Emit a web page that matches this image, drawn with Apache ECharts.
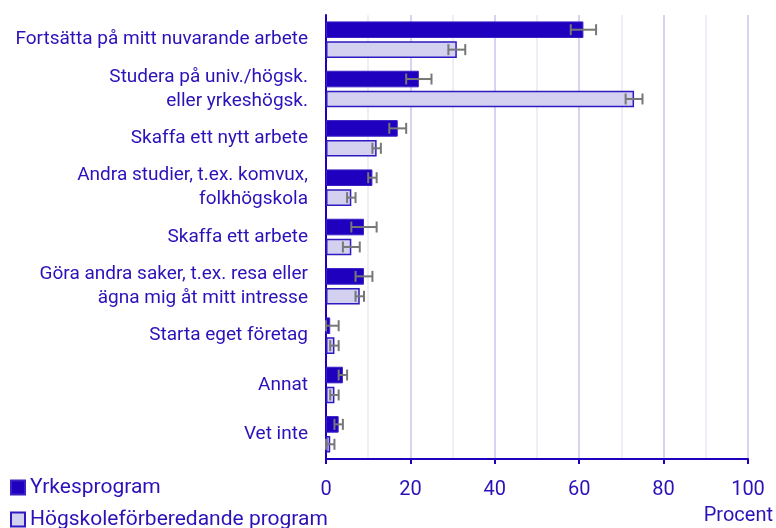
<!DOCTYPE html>
<html>
<head>
<meta charset="utf-8">
<script src="https://cdn.jsdelivr.net/npm/echarts@6/dist/echarts.min.js"></script>
<style>
  html, body { margin: 0; padding: 0; background: #fff; }
  #chart { width: 776px; height: 528px; }
</style>
</head>
<body>
<div id="chart"></div>
<script>
const categories = [
    'Fortsätta på mitt nuvarande arbete',
    'Studera på univ./högsk.\neller yrkeshögsk.',
    'Skaffa ett nytt arbete',
    'Andra studier, t.ex. komvux,\nfolkhögskola',
    'Skaffa ett arbete',
    'Göra andra saker, t.ex. resa eller\nägna mig åt mitt intresse',
    'Starta eget företag',
    'Annat',
    'Vet inte'
];
const yrkes = [61, 22, 17, 11, 9, 9, 1, 4, 3];
const yrkesLow = [58, 19, 15, 10, 6, 7, 0, 3, 2];
const yrkesHigh = [64, 25, 19, 12, 12, 11, 3, 5, 4];
const hogsk = [31, 73, 12, 6, 6, 8, 2, 2, 1];
const hogskLow = [29, 71, 11, 5, 4, 7, 1, 1, 0];
const hogskHigh = [33, 75, 13, 7, 8, 9, 3, 3, 2];

const blue = '#1e00be';
const textColor = '#2a12b8';

function errorBars(low, high, side) {
    return {
        type: 'custom',
        silent: true,
        z: 5,
        data: low.map((l, i) => [i, l, high[i]]),
        renderItem: (params, api) => {
            const band = api.size([0, 1])[1];
            const off = side * band * 0.202;
            const a = api.coord([api.value(1), api.value(0)]);
            const b = api.coord([api.value(2), api.value(0)]);
            const y = a[1] + off;
            const cap = 5.5;
            const style = { stroke: '#777', lineWidth: 2, fill: null };
            return {
                type: 'group',
                children: [
                    { type: 'line', shape: { x1: a[0], y1: y, x2: b[0], y2: y }, style },
                    { type: 'line', shape: { x1: a[0], y1: y - cap, x2: a[0], y2: y + cap }, style },
                    { type: 'line', shape: { x1: b[0], y1: y - cap, x2: b[0], y2: y + cap }, style }
                ]
            };
        }
    };
}

const legendBase = {
    left: 10,
    padding: 0,
    itemWidth: 14,
    itemHeight: 14,
    itemGap: 5,
    icon: 'rect',
    textStyle: { color: textColor, fontSize: 21, fontFamily: 'Roboto' }
};

const myChart = echarts.init(document.getElementById('chart'));
const option = {
    animation: false,
    textStyle: { fontFamily: 'Roboto' },
    grid: { left: 326, right: 27, top: 15, bottom: 69 },
    legend: [
        Object.assign({}, legendBase, { top: 477, data: ['Yrkesprogram'] }),
        Object.assign({}, legendBase, { top: 509, data: ['Högskoleförberedande program'] })
    ],
    xAxis: {
        type: 'value',
        min: 0,
        max: 100,
        interval: 20,
        name: 'Procent',
        nameLocation: 'end',
        nameGap: 0,
        nameTextStyle: {
            color: textColor, fontSize: 20, align: 'right',
            verticalAlign: 'top', padding: [47, -25, 0, 0]
        },
        axisLine: { show: true, lineStyle: { color: blue, width: 2 } },
        axisTick: { show: true, length: 5, lineStyle: { color: blue, width: 2 } },
        axisLabel: { color: textColor, fontSize: 20, margin: 21 },
        splitLine: { show: true, lineStyle: { color: '#d6d4f2', width: 2 } },
        minorTick: { show: false, splitNumber: 2 },
        minorSplitLine: { show: true, lineStyle: { color: '#efeef6', width: 2 } }
    },
    yAxis: {
        type: 'category',
        data: categories,
        inverse: true,
        axisLine: { show: true, lineStyle: { color: blue, width: 2 } },
        axisTick: { show: false },
        axisLabel: {
            color: textColor, fontSize: 19, margin: 18,
            lineHeight: 24, align: 'right', padding: [9, 0, 0, 0]
        }
    },
    series: [
        {
            name: 'Yrkesprogram',
            type: 'bar',
            data: yrkes,
            barGap: '20%',
            barCategoryGap: '26%',
            itemStyle: { color: blue, borderColor: '#3a22c4', borderWidth: 1 }
        },
        {
            name: 'Högskoleförberedande program',
            type: 'bar',
            data: hogsk,
            barGap: '20%',
            barCategoryGap: '26%',
            itemStyle: { color: '#d3d0f0', borderColor: '#2e1bbf', borderWidth: 1.5 }
        },
        errorBars(yrkesLow, yrkesHigh, -1),
        errorBars(hogskLow, hogskHigh, 1)
    ]
};
myChart.setOption(option);
</script>
</body>
</html>
